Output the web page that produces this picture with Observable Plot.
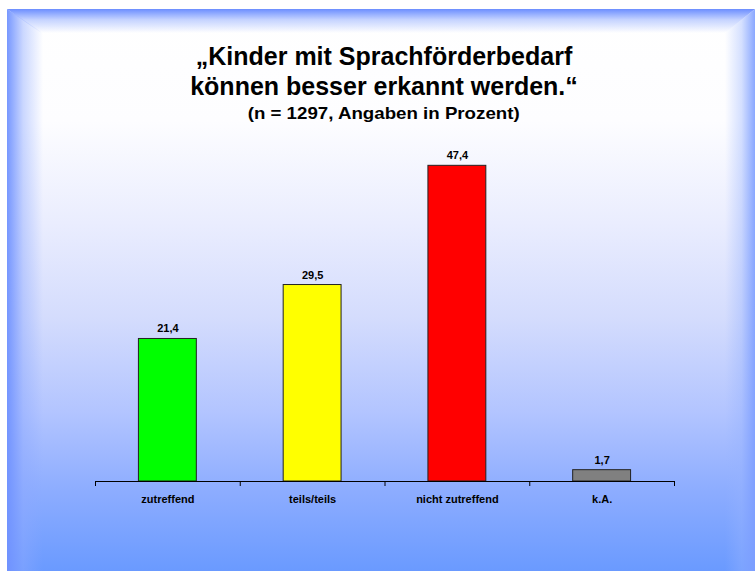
<!DOCTYPE html>
<html><head><meta charset="utf-8">
<script src="https://cdn.jsdelivr.net/npm/d3@7"></script>
<script src="https://cdn.jsdelivr.net/npm/@observablehq/plot@0.6"></script>
<style>
html,body{margin:0;padding:0;background:#fff;}
#frame{position:relative;width:755px;height:571px;overflow:hidden;background:#fff;font-family:"Liberation Sans",Arial,sans-serif;}
#panel{position:absolute;left:7px;top:9px;width:748px;height:562px;
  background:linear-gradient(to bottom,#ffffff 0%,#fdfdff 20%,#eaedfe 38%,#d4dcfd 55%,#b2c4ff 72%,#8cacff 86%,#6a9aff 100%);}
.bevel{position:absolute;}
#bt{left:0;top:0;width:748px;height:24px;background:linear-gradient(to bottom,rgba(108,142,255,1),rgba(140,168,255,0.5) 45%,rgba(255,255,255,0));clip-path:polygon(0 0,100% 0,calc(100% - 30px) 100%,34px 100%);}
#bl{left:0;top:0;width:36px;height:562px;background:linear-gradient(to right,rgba(112,146,255,0.95),rgba(140,168,255,0.45) 45%,rgba(255,255,255,0));clip-path:polygon(0 0,100% 24px,100% 100%,0 100%);}
#br{right:0;top:0;width:30px;height:562px;background:linear-gradient(to left,rgba(125,158,255,0.9),rgba(150,178,255,0.4) 45%,rgba(255,255,255,0));clip-path:polygon(100% 0,0 24px,0 100%,100% 100%);}
.ttl{position:absolute;left:0;width:768px;text-align:center;line-height:0;font-weight:bold;color:#000;white-space:nowrap;}
.ttl span{display:inline-block;}
#plotwrap{position:absolute;left:0;top:0;}
</style></head>
<body>
<div id="frame">
  <div id="panel">
    <div class="bevel" id="bt"></div>
    <div class="bevel" id="bl"></div>
    <div class="bevel" id="br"></div>
  </div>
  <div class="ttl" id="t1" style="top:55.5px;font-size:25px;"><span>„Kinder mit Sprachförderbedarf</span></div>
  <div class="ttl" id="t2" style="top:85.5px;font-size:25px;"><span>können besser erkannt werden.“</span></div>
  <div class="ttl" id="t3" style="top:113.5px;font-size:17px;"><span id="sub">(n = 1297, Angaben in Prozent)</span></div>
  <div id="plotwrap"></div>
</div>
<script>
const categories = ["zutreffend", "teils/teils", "nicht zutreffend", "k.A."];
const values = [21.4, 29.5, 47.4, 1.7];
const valueLabels = ["21,4", "29,5", "47,4", "1,7"];
const barColors = ["#00ff00", "#ffff00", "#ff0000", "#808080"];

const data = categories.map((c, i) => ({category: c, value: values[i], label: valueLabels[i], color: barColors[i], index: i}));
const tickPositions = d3.range(categories.length + 1);

const chart = Plot.plot({
  width: 755, height: 571,
  marginTop: 148, marginBottom: 90, marginLeft: 95, marginRight: 81,
  style: {background: "transparent", fontFamily: "'Liberation Sans', Arial, sans-serif", color: "#000", overflow: "visible"},
  x: {type: "linear", domain: [0, categories.length], axis: null},
  y: {domain: [0, 50], axis: null},
  color: {type: "identity"},
  marks: [
    Plot.rectY(data, {x1: d => d.index + 0.3, x2: d => d.index + 0.7, y: "value", fill: "color", stroke: "#222", strokeWidth: 1}),
    Plot.ruleY([0], {stroke: "#000", strokeWidth: 1}),
    Plot.axisX(tickPositions, {tickSize: 5, tickFormat: () => "", stroke: "#000"}),
    Plot.text(data, {x: d => d.index + 0.5, y: "value", text: "label", dy: -6.5, lineAnchor: "bottom", fontWeight: "bold", fontSize: 11, fill: "#000"}),
    Plot.text(data, {x: d => d.index + 0.5, y: 0, text: "category", dy: 21, lineAnchor: "bottom", fontWeight: "bold", fontSize: 11, fill: "#000"})
  ]
});
document.getElementById("plotwrap").appendChild(chart);

// stretch subtitle to reference width
const sub = document.getElementById("sub");
const w = sub.getBoundingClientRect().width;
sub.style.transform = `scaleX(${272 / w})`;
</script>
</body></html>
